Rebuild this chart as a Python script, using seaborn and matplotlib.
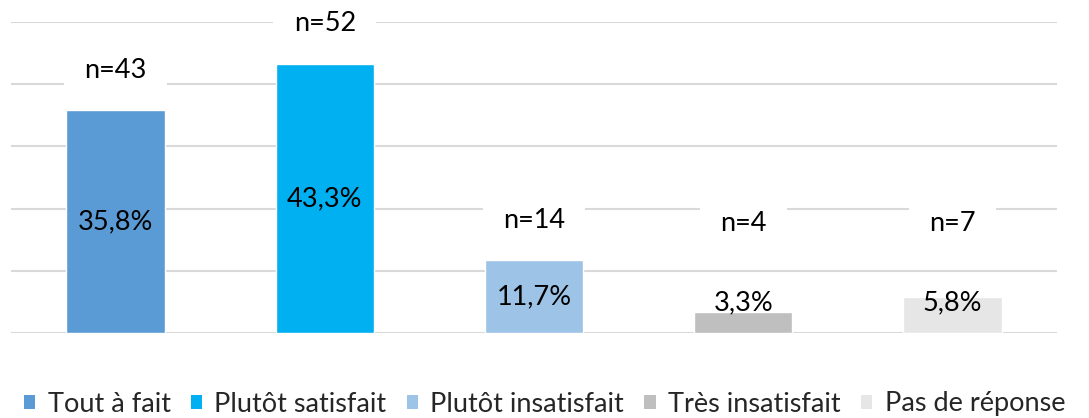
import matplotlib
matplotlib.use("Agg")
import matplotlib.pyplot as plt
import seaborn as sns
import pandas as pd
from matplotlib.patches import Patch

# data
categories = ["Tout à fait", "Plutôt satisfait", "Plutôt insatisfait", "Très insatisfait", "Pas de réponse"]
percents = [35.8, 43.3, 11.7, 3.3, 5.8]
counts = [43, 52, 14, 4, 7]
colors = ["#5B9BD5", "#00B0F0", "#9DC3E6", "#BFBFBF", "#E7E6E6"]

df = pd.DataFrame({"cat": categories, "pct": percents, "n": counts})

sns.set_style("white")
plt.rcParams["font.family"] = ["Lato", "DejaVu Sans"]

fig = plt.figure(figsize=(10.89, 4.18), dpi=100)
ax = fig.add_axes([11 / 1089, 1 - 333 / 418, (1057 - 11) / 1089, (333 - 22) / 418])

sns.barplot(data=df, x="cat", y="pct", hue="cat", palette=colors, width=0.47,
            legend=False, ax=ax, saturation=1, zorder=2)

ax.set_ylim(0, 50)
ax.set_xlim(-0.5, len(categories) - 0.5)
ax.set_yticks([0, 10, 20, 30, 40, 50])
ax.yaxis.grid(True, color="#D9D9D9", linewidth=1.5, zorder=0)
ax.set_axisbelow(True)
ax.set_xticks([])
ax.set_yticklabels([])
ax.tick_params(left=False)
ax.set_xlabel("")
ax.set_ylabel("")
for s in ax.spines.values():
    s.set_visible(False)

for i, (p, n) in enumerate(zip(percents, counts)):
    # percentage inside bar (kept above a minimum height for small bars)
    ax.text(i, max(p / 2, 4.8), f"{p:.1f}".replace(".", ",") + "%", ha="center", va="center",
            fontsize=19.5, color="black", zorder=3)
    # count label above bar with white box masking grid lines
    ax.text(i, max(p + 6.4, 17.6), f"n={n}", ha="center", va="center", fontsize=19.5,
            color="black", zorder=3,
            bbox=dict(boxstyle="square,pad=0.75", facecolor="white", edgecolor="none"))

handles = [Patch(facecolor=c, edgecolor="none") for c in colors]
leg = fig.legend(handles, categories, loc="center", ncol=5, frameon=False, fontsize=19.5,
                 handlelength=0.42, handleheight=0.42, handletextpad=0.45, columnspacing=0.75,
                 borderpad=0.1, borderaxespad=0)
leg.set_bbox_to_anchor((0.5, 1 - 404 / 418), transform=fig.transFigure)

fig.savefig("out.png", dpi=100)
